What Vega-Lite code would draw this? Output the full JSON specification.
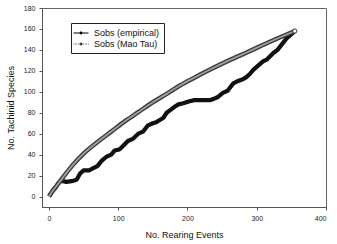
{
  "$schema": "https://vega.github.io/schema/vega-lite/v6.json",
  "width": 284,
  "height": 199,
  "autosize": {"type": "none"},
  "padding": {"left": 42, "top": 8, "right": 11, "bottom": 37},
  "background": "white",
  "config": {
    "font": "Liberation Sans",
    "view": {"stroke": "#666", "strokeWidth": 1},
    "axis": {"grid": false, "domainColor": "#555", "tickColor": "#555", "tickSize": 3, "labelFontSize": 7, "labelColor": "#222", "titleFontSize": 9, "titleFontWeight": "normal", "titleColor": "#111"}
  },
  "datasets": {
    "curves": [
      {"series": "Sobs (Mao Tau)", "events": 0, "species": 0},
      {"series": "Sobs (Mao Tau)", "events": 2, "species": 2},
      {"series": "Sobs (Mao Tau)", "events": 5, "species": 5},
      {"series": "Sobs (Mao Tau)", "events": 12, "species": 11},
      {"series": "Sobs (Mao Tau)", "events": 20, "species": 18},
      {"series": "Sobs (Mao Tau)", "events": 33, "species": 29},
      {"series": "Sobs (Mao Tau)", "events": 50, "species": 41},
      {"series": "Sobs (Mao Tau)", "events": 72, "species": 53},
      {"series": "Sobs (Mao Tau)", "events": 90, "species": 62},
      {"series": "Sobs (Mao Tau)", "events": 110, "species": 72},
      {"series": "Sobs (Mao Tau)", "events": 130, "species": 81},
      {"series": "Sobs (Mao Tau)", "events": 150, "species": 90},
      {"series": "Sobs (Mao Tau)", "events": 170, "species": 98},
      {"series": "Sobs (Mao Tau)", "events": 189, "species": 106},
      {"series": "Sobs (Mao Tau)", "events": 210, "species": 113.5},
      {"series": "Sobs (Mao Tau)", "events": 232, "species": 121},
      {"series": "Sobs (Mao Tau)", "events": 260, "species": 130},
      {"series": "Sobs (Mao Tau)", "events": 287, "species": 138},
      {"series": "Sobs (Mao Tau)", "events": 320, "species": 148},
      {"series": "Sobs (Mao Tau)", "events": 355, "species": 158},
      {"series": "Sobs (empirical)", "events": 1, "species": 1},
      {"series": "Sobs (empirical)", "events": 5, "species": 5},
      {"series": "Sobs (empirical)", "events": 10, "species": 9},
      {"series": "Sobs (empirical)", "events": 14, "species": 13},
      {"series": "Sobs (empirical)", "events": 18, "species": 15},
      {"series": "Sobs (empirical)", "events": 25, "species": 14},
      {"series": "Sobs (empirical)", "events": 35, "species": 15},
      {"series": "Sobs (empirical)", "events": 40, "species": 16},
      {"series": "Sobs (empirical)", "events": 45, "species": 22},
      {"series": "Sobs (empirical)", "events": 50, "species": 25},
      {"series": "Sobs (empirical)", "events": 58, "species": 25},
      {"series": "Sobs (empirical)", "events": 64, "species": 27},
      {"series": "Sobs (empirical)", "events": 70, "species": 29},
      {"series": "Sobs (empirical)", "events": 76, "species": 34},
      {"series": "Sobs (empirical)", "events": 83, "species": 38},
      {"series": "Sobs (empirical)", "events": 90, "species": 40},
      {"series": "Sobs (empirical)", "events": 95, "species": 44},
      {"series": "Sobs (empirical)", "events": 102, "species": 45},
      {"series": "Sobs (empirical)", "events": 108, "species": 49},
      {"series": "Sobs (empirical)", "events": 114, "species": 53},
      {"series": "Sobs (empirical)", "events": 121, "species": 55},
      {"series": "Sobs (empirical)", "events": 129, "species": 60},
      {"series": "Sobs (empirical)", "events": 136, "species": 62},
      {"series": "Sobs (empirical)", "events": 143, "species": 68},
      {"series": "Sobs (empirical)", "events": 150, "species": 70},
      {"series": "Sobs (empirical)", "events": 155, "species": 71},
      {"series": "Sobs (empirical)", "events": 160, "species": 73},
      {"series": "Sobs (empirical)", "events": 165, "species": 75},
      {"series": "Sobs (empirical)", "events": 170, "species": 80},
      {"series": "Sobs (empirical)", "events": 176, "species": 83},
      {"series": "Sobs (empirical)", "events": 182, "species": 86},
      {"series": "Sobs (empirical)", "events": 187, "species": 88},
      {"series": "Sobs (empirical)", "events": 194, "species": 89},
      {"series": "Sobs (empirical)", "events": 203, "species": 91},
      {"series": "Sobs (empirical)", "events": 210, "species": 92},
      {"series": "Sobs (empirical)", "events": 220, "species": 92},
      {"series": "Sobs (empirical)", "events": 232, "species": 92},
      {"series": "Sobs (empirical)", "events": 237, "species": 93},
      {"series": "Sobs (empirical)", "events": 244, "species": 95},
      {"series": "Sobs (empirical)", "events": 251, "species": 99},
      {"series": "Sobs (empirical)", "events": 258, "species": 101},
      {"series": "Sobs (empirical)", "events": 266, "species": 108},
      {"series": "Sobs (empirical)", "events": 272, "species": 110},
      {"series": "Sobs (empirical)", "events": 280, "species": 112},
      {"series": "Sobs (empirical)", "events": 285, "species": 114},
      {"series": "Sobs (empirical)", "events": 290, "species": 117},
      {"series": "Sobs (empirical)", "events": 295, "species": 121},
      {"series": "Sobs (empirical)", "events": 302, "species": 125},
      {"series": "Sobs (empirical)", "events": 309, "species": 129},
      {"series": "Sobs (empirical)", "events": 315, "species": 131},
      {"series": "Sobs (empirical)", "events": 324, "species": 137},
      {"series": "Sobs (empirical)", "events": 330, "species": 140},
      {"series": "Sobs (empirical)", "events": 336, "species": 145},
      {"series": "Sobs (empirical)", "events": 343, "species": 151},
      {"series": "Sobs (empirical)", "events": 350, "species": 155},
      {"series": "Sobs (empirical)", "events": 355, "species": 158}
    ]
  },
  "data": {"name": "curves"},
  "encoding": {
    "x": {"field": "events", "type": "quantitative", "scale": {"domain": [-10, 400], "nice": false, "zero": false},
      "axis": {"title": "No. Rearing Events", "values": [0, 100, 200, 300, 400], "labelPadding": 4, "titlePadding": 9}},
    "y": {"field": "species", "type": "quantitative", "scale": {"domain": [-10, 180], "nice": false, "zero": false},
      "axis": {"title": "No. Tachinid Species", "values": [0, 20, 40, 60, 80, 100, 120, 140, 160, 180], "labelPadding": 4, "titlePadding": 8}}
  },
  "layer": [
    {
      "transform": [{"filter": "datum.series == 'Sobs (empirical)'"}],
      "mark": {"type": "line", "color": "#111", "strokeWidth": 4.2, "strokeJoin": "round"}
    },
    {
      "transform": [{"filter": "datum.series == 'Sobs (Mao Tau)'"}],
      "mark": {"type": "line", "color": "#3a3a3a", "strokeWidth": 4.5, "interpolate": "monotone"}
    },
    {
      "transform": [{"filter": "datum.series == 'Sobs (Mao Tau)'"}],
      "mark": {"type": "line", "color": "#a0a0a0", "strokeWidth": 1.8, "interpolate": "monotone"}
    },
    {
      "transform": [{"filter": "datum.series == 'Sobs (Mao Tau)' && datum.events == 355"}],
      "mark": {"type": "point", "filled": false, "fill": "white", "stroke": "#333", "strokeWidth": 1, "size": 18, "opacity": 1}
    },
    {
      "transform": [{"filter": "datum.events == 355"}],
      "mark": {"type": "point", "opacity": 0, "strokeWidth": 1.1, "size": 100},
      "encoding": {
        "shape": {"field": "series", "type": "nominal",
          "scale": {"domain": ["Sobs (empirical)", "Sobs (Mao Tau)"],
            "range": ["M-1.5,0L1.5,0M0.18,0A0.18,0.18,0,1,1,-0.18,0A0.18,0.18,0,1,1,0.18,0Z",
                      "M-1.5,0L-1.38,0M-1.2,0L-1.08,0M-0.9,0L-0.78,0M-0.6,0L-0.48,0M0.48,0L0.6,0M0.78,0L0.9,0M1.08,0L1.2,0M1.38,0L1.5,0M0.2,0A0.2,0.2,0,1,1,-0.2,0A0.2,0.2,0,1,1,0.2,0Z"]},
          "legend": {"title": null, "orient": "none", "legendX": 29, "legendY": 15, "padding": 4, "rowPadding": 0,
            "strokeColor": "#222", "fillColor": "white", "labelFontSize": 9, "labelColor": "#111", "labelOffset": 7,
            "symbolSize": 100, "symbolStrokeWidth": 1.1, "symbolOpacity": 1}},
        "fill": {"field": "series", "type": "nominal",
          "scale": {"domain": ["Sobs (empirical)", "Sobs (Mao Tau)"], "range": ["black", "white"]},
          "legend": {"title": null, "orient": "none", "legendX": 29, "legendY": 15, "symbolOpacity": 1}},
        "stroke": {"field": "series", "type": "nominal",
          "scale": {"domain": ["Sobs (empirical)", "Sobs (Mao Tau)"], "range": ["black", "#222"]},
          "legend": {"title": null, "orient": "none", "legendX": 29, "legendY": 15, "symbolOpacity": 1}}
      }
    }
  ]
}
